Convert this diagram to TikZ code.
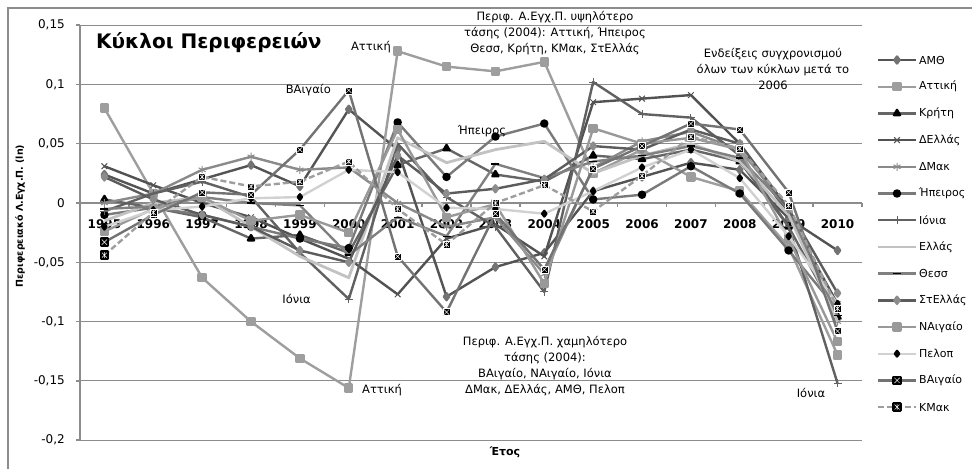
\documentclass[tikz,border=0pt]{standalone}
\usepackage{fontspec}
\setmainfont{DejaVu Sans}
\usetikzlibrary{plotmarks}

\definecolor{frameg}{gray}{0.55}
\definecolor{cAMTH}{gray}{0.33}
\definecolor{cAMTHm}{gray}{0.45}
\definecolor{cATT}{gray}{0.62}
\definecolor{cKRI}{gray}{0.40}
\definecolor{cDEL}{gray}{0.32}
\definecolor{cDMAK}{gray}{0.54}
\definecolor{cIPE}{gray}{0.48}
\definecolor{cION}{gray}{0.38}
\definecolor{cELL}{gray}{0.76}
\definecolor{cTHES}{gray}{0.50}
\definecolor{cSTE}{gray}{0.36}
\definecolor{cSTEm}{gray}{0.55}
\definecolor{cNAIG}{gray}{0.60}
\definecolor{cPEL}{gray}{0.82}
\definecolor{cBAIG}{gray}{0.45}
\definecolor{cKMAK}{gray}{0.62}

% black box with a white cross
\pgfdeclareplotmark{xbox}{%
  \pgfpathrectangle{\pgfqpoint{-\pgfplotmarksize}{-\pgfplotmarksize}}{\pgfqpoint{2\pgfplotmarksize}{2\pgfplotmarksize}}%
  \pgfusepathqfillstroke
  \pgfsetstrokecolor{white}%
  \pgfsetlinewidth{0.5pt}%
  \pgfpathmoveto{\pgfqpoint{-.75\pgfplotmarksize}{-.75\pgfplotmarksize}}%
  \pgfpathlineto{\pgfqpoint{.75\pgfplotmarksize}{.75\pgfplotmarksize}}%
  \pgfpathmoveto{\pgfqpoint{-.75\pgfplotmarksize}{.75\pgfplotmarksize}}%
  \pgfpathlineto{\pgfqpoint{.75\pgfplotmarksize}{-.75\pgfplotmarksize}}%
  \pgfusepathqstroke
}
% black box with a white asterisk
\pgfdeclareplotmark{sbox}{%
  \pgfpathrectangle{\pgfqpoint{-\pgfplotmarksize}{-\pgfplotmarksize}}{\pgfqpoint{2\pgfplotmarksize}{2\pgfplotmarksize}}%
  \pgfusepathqfillstroke
  \pgfsetstrokecolor{white}%
  \pgfsetlinewidth{0.5pt}%
  \pgfpathmoveto{\pgfqpoint{-.7\pgfplotmarksize}{-.7\pgfplotmarksize}}%
  \pgfpathlineto{\pgfqpoint{.7\pgfplotmarksize}{.7\pgfplotmarksize}}%
  \pgfpathmoveto{\pgfqpoint{-.7\pgfplotmarksize}{.7\pgfplotmarksize}}%
  \pgfpathlineto{\pgfqpoint{.7\pgfplotmarksize}{-.7\pgfplotmarksize}}%
  \pgfpathmoveto{\pgfqpoint{0pt}{-.85\pgfplotmarksize}}%
  \pgfpathlineto{\pgfqpoint{0pt}{.85\pgfplotmarksize}}%
  \pgfusepathqstroke
}

\tikzset{
  ser/.style={line width=2.4pt, line join=round},
  samth/.style={ser, draw=cAMTH, mark=diamond*, mark size=3.5pt, mark options={fill=cAMTHm, draw=cAMTHm}},
  satt/.style={ser, draw=cATT, mark=square*, mark size=3.5pt, mark options={fill=cATT, draw=cATT}},
  skri/.style={ser, draw=cKRI, mark=triangle*, mark size=3.5pt, mark options={fill=black, draw=black}},
  sdel/.style={ser, draw=cDEL, mark=x, mark size=4pt, mark options={draw=cDEL, line width=1pt}},
  sdmak/.style={ser, draw=cDMAK, mark=asterisk, mark size=4pt, mark options={draw=cDMAK, line width=1pt}},
  sipe/.style={ser, draw=cIPE, mark=*, mark size=3pt, mark options={fill=black, draw=black}},
  sion/.style={ser, draw=cION, mark=+, mark size=4pt, mark options={draw=cION, line width=1pt}},
  sell/.style={ser, draw=cELL, line width=2.8pt},
  sthes/.style={ser, draw=cTHES, mark=-, mark size=4pt, mark options={draw=black, line width=1.4pt}},
  sste/.style={ser, draw=cSTE, mark=diamond*, mark size=3.5pt, mark options={fill=cSTEm, draw=cSTEm}},
  snaig/.style={ser, draw=cNAIG, mark=square*, mark size=3.5pt, mark options={fill=cNAIG, draw=cNAIG}},
  spel/.style={ser, draw=cPEL, mark=diamond*, mark size=2.8pt, mark options={fill=black, draw=black}},
  sbaig/.style={ser, draw=cBAIG, mark=xbox, mark size=3.5pt, mark options={fill=black, draw=black}},
  skmak/.style={ser, draw=cKMAK, dash pattern=on 6pt off 3pt, mark=sbox, mark size=3.5pt, mark options={fill=black, draw=black, solid}},
  frame/.style={draw=frameg, line width=1.5pt},
  gridln/.style={draw=frameg, line width=1pt},
  note/.style={font=\fontsize{11.5}{16}\selectfont, align=center, inner sep=0pt},
  legtxt/.style={font=\fontsize{11}{13}\selectfont, anchor=west, inner sep=0pt}
}

\begin{document}
\begin{tikzpicture}[x=1pt, y=-1pt]
  \useasboundingbox (0,0) rectangle (972,469);

  % chart frame
  \draw[frame] (8,469) -- (8,8) -- (972,8);

  % grid and axes
  \foreach \yy in {25.1,84.4,143.7,262.3,321.6,380.9,440.2}
    \draw[gridln] (80,\yy) -- (862,\yy);
  \draw[frame] (80,25.1) -- (80,440.2);
  \foreach \yy in {25.1,84.4,143.7,203,262.3,321.6,380.9,440.2}
    \draw[frame] (76,\yy) -- (80,\yy);
  \draw[draw=frameg, line width=2.5pt] (80,203) -- (862,203);
  \foreach \i in {0,...,16}
    \draw[frame] ({80+\i*48.875},203) -- ++(0,4);

  % axis labels
  \foreach \yy/\lab [count=\k] in {25.1/{0,15}, 84.4/{0,1}, 143.7/{0,05}, 203/{0}, 262.3/{-0,05}, 321.6/{-0,1}, 380.9/{-0,15}, 440.2/{-0,2}}
    \node[anchor=east, font=\fontsize{12}{14}\selectfont, inner sep=0pt] (yl\k) at (65,\yy) {\lab};
  \foreach \yr [count=\k from 0] in {1995,...,2010}
    \node[font=\fontsize{12}{14}\selectfont\bfseries, inner sep=0pt] (xl\k) at ({104.4+\k*48.875},224) {\yr};
  \node[rotate=90, font=\fontsize{9.5}{11}\selectfont\bfseries, inner sep=0pt] (ylab) at (20,216) {Περιφερειακό Λ.Εγχ.Π. (ln)};
  \node[font=\fontsize{11}{13}\selectfont\bfseries, inner sep=0pt] (xlab) at (505,452) {Έτος};

  % series
  \begin{scope}[shift={(104.4pt,-203pt)}, x=48.875pt, y=1186pt]
    \draw[samth] plot coordinates {(0,0.024) (1,0.008) (2,0.02) (3,0.032) (4,0.014) (5,0.079) (6,0.045) (7,-0.079) (8,-0.054) (9,-0.042) (10,0.01) (11,0.022) (12,0.034) (13,0.028) (14,-0.013) (15,-0.04)};
    \draw[satt] plot coordinates {(0,0.08) (1,0.008) (2,-0.063) (3,-0.1) (4,-0.131) (5,-0.156) (6,0.128) (7,0.115) (8,0.111) (9,0.119) (10,0.025) (11,0.045) (12,0.022) (13,0.01) (14,-0.037) (15,-0.128)};
    \draw[skri] plot coordinates {(0,0.003) (1,-0.004) (2,-0.012) (3,-0.03) (4,-0.027) (5,-0.042) (6,0.032) (7,0.046) (8,0.024) (9,0.018) (10,0.04) (11,0.037) (12,0.045) (13,0.035) (14,-0.02) (15,-0.096)};
    \draw[sdel] plot coordinates {(0,0.031) (1,0.015) (2,0.0) (3,-0.012) (4,-0.03) (5,-0.047) (6,-0.077) (7,-0.03) (8,-0.018) (9,-0.045) (10,0.085) (11,0.088) (12,0.091) (13,0.05) (14,-0.01) (15,-0.085)};
    \draw[sdmak] plot coordinates {(0,0.0) (1,0.008) (2,0.028) (3,0.039) (4,0.028) (5,0.03) (6,0.0) (7,-0.02) (8,-0.012) (9,-0.06) (10,0.03) (11,0.052) (12,0.06) (13,0.045) (14,-0.005) (15,-0.1)};
    \draw[sipe] plot coordinates {(0,-0.01) (1,-0.004) (2,-0.01) (3,-0.02) (4,-0.03) (5,-0.038) (6,0.068) (7,0.022) (8,0.056) (9,0.067) (10,0.003) (11,0.007) (12,0.031) (13,0.008) (14,-0.04) (15,-0.09)};
    \draw[sion] plot coordinates {(0,-0.007) (1,0.008) (2,0.018) (3,0.005) (4,-0.042) (5,-0.081) (6,0.05) (7,0.005) (8,-0.02) (9,-0.075) (10,0.102) (11,0.075) (12,0.072) (13,0.04) (14,-0.02) (15,-0.152)};
    \draw[sell] plot coordinates {(0,-0.015) (1,0.0) (2,0.005) (3,-0.02) (4,-0.045) (5,-0.063) (6,0.055) (7,0.034) (8,0.045) (9,0.052) (10,0.025) (11,0.04) (12,0.05) (13,0.035) (14,-0.01) (15,-0.1)};
    \draw[sthes] plot coordinates {(0,-0.005) (1,-0.003) (2,0.005) (3,0.0) (4,-0.002) (5,-0.044) (6,-0.012) (7,-0.028) (8,0.033) (9,0.021) (10,0.035) (11,0.04) (12,0.048) (13,0.038) (14,-0.005) (15,-0.095)};
    \draw[sste] plot coordinates {(0,0.022) (1,0.003) (2,-0.01) (3,-0.02) (4,-0.04) (5,-0.05) (6,0.04) (7,0.008) (8,0.012) (9,0.02) (10,0.048) (11,0.045) (12,0.062) (13,0.05) (14,-0.005) (15,-0.076)};
    \draw[snaig] plot coordinates {(0,-0.024) (1,-0.005) (2,0.005) (3,-0.015) (4,-0.01) (5,-0.025) (6,0.062) (7,-0.012) (8,-0.001) (9,-0.068) (10,0.063) (11,0.05) (12,0.055) (13,0.045) (14,-0.03) (15,-0.117)};
    \draw[spel] plot coordinates {(0,-0.02) (1,-0.006) (2,-0.003) (3,0.004) (4,0.005) (5,0.028) (6,0.026) (7,-0.004) (8,-0.005) (9,-0.009) (10,0.01) (11,0.03) (12,0.045) (13,0.021) (14,-0.028) (15,-0.085)};
    \draw[sbaig] plot coordinates {(0,-0.033) (1,-0.01) (2,0.009) (3,0.007) (4,0.045) (5,0.095) (6,-0.045) (7,-0.092) (8,-0.009) (9,-0.056) (10,0.029) (11,0.048) (12,0.067) (13,0.062) (14,0.009) (15,-0.108)};
    \draw[skmak] plot coordinates {(0,-0.044) (1,-0.008) (2,0.022) (3,0.014) (4,0.018) (5,0.035) (6,-0.005) (7,-0.035) (8,0.0) (9,0.015) (10,-0.007) (11,0.023) (12,0.056) (13,0.046) (14,-0.002) (15,-0.089)};
  \end{scope}

  % legend
  \foreach \st/\nm [count=\k from 0] in {samth/ΑΜΘ, satt/Αττική, skri/Κρήτη, sdel/ΔΕλλάς, sdmak/ΔΜακ, sipe/Ήπειρος, sion/Ιόνια, sell/Ελλάς, sthes/Θεσσ, sste/ΣτΕλλάς, snaig/ΝΑιγαίο, spel/Πελοπ, sbaig/ΒΑιγαίο, skmak/ΚΜακ}{
    \pgfmathsetmacro\yy{60+26.7*\k}
    \draw[\st, mark indices={2}] plot coordinates {(878,\yy) (897,\yy) (916,\yy)};
    \node[legtxt] (leg\k) at (919,\yy) {\nm};
  }

  % title and notes
  \node[anchor=west, font=\fontsize{20}{24}\selectfont\bfseries, inner sep=0pt] (title) at (96,43) {Κύκλοι Περιφερειών};
  \node[note, anchor=east] (attup) at (391,47) {Αττική};
  \node[note, anchor=east] (baig) at (331,90) {ΒΑιγαίο};
  \node[note] (ipe) at (482,131) {Ήπειρος};
  \node[note, anchor=east] (ionlo) at (311,299) {Ιόνια};
  \node[note, anchor=west] (attlo) at (362,390) {Αττική};
  \node[note] (ionend) at (811,393) {Ιόνια};
  \node[note] (notehi) at (555,33) {Περιφ. Α.Εγχ.Π. υψηλότερο\\τάσης (2004): Αττική, Ήπειρος\\Θεσσ, Κρήτη, ΚΜακ, ΣτΕλλάς};
  \node[note] (notelo) at (545,366) {Περιφ. Α.Εγχ.Π. χαμηλότερο\\τάσης (2004):\\ΒΑιγαίο, ΝΑιγαίο, Ιόνια\\ΔΜακ, ΔΕλλάς, ΑΜΘ, Πελοπ};
  \node[note] (notesync) at (773,69) {Ενδείξεις συγχρονισμού\\όλων των κύκλων μετά το\\2006};
\end{tikzpicture}
\end{document}
